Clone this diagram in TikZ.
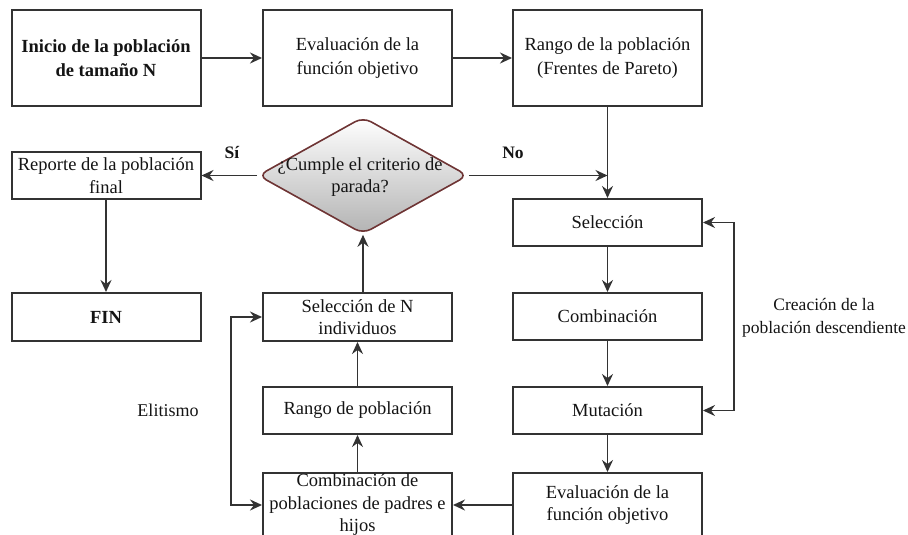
\documentclass[tikz,border=0pt]{standalone}
\usepackage{fontspec}
\setmainfont{Liberation Serif}
\usetikzlibrary{shapes.geometric,arrows.meta}
\definecolor{boxline}{HTML}{333333}
\definecolor{txt}{HTML}{141414}
\definecolor{dialine}{HTML}{6E3434}
\begin{document}
\begin{tikzpicture}[x=1pt,y=-1pt,
  box/.style={draw=boxline, line width=2pt, fill=white, minimum width=189pt, inner sep=0pt,
    align=center, text=txt, font=\fontsize{18.5}{22.5}\selectfont},
  lbl/.style={text=txt, align=center, inner sep=0pt, font=\fontsize{18}{22.5}\selectfont},
  tip/.tip={Stealth[length=12pt,width=11pt,inset=4pt]},
  conn/.style={draw=boxline, line width=1.8pt, -tip},
  dconn/.style={draw=boxline, line width=1.8pt, tip-tip}
]
\useasboundingbox (0,0) rectangle (908,535);
% top row
\node[box, minimum height=96pt, font=\fontsize{18.5}{24}\selectfont\bfseries] (inicio) at (106,58) {Inicio de la población\\de tamaño N};
\node[box, minimum height=96pt, font=\fontsize{18.5}{24}\selectfont] (eval1) at (357.5,58) {Evaluación de la\\función objetivo};
\node[box, minimum height=96pt, font=\fontsize{18.5}{24}\selectfont] (rango1) at (607.5,58) {Rango de la población\\(Frentes de Pareto)};
% left column
\node[box, minimum height=47pt] (reporte) at (106,175.5) {Reporte de la población\\final};
\node[box, minimum height=48pt, font=\fontsize{18.5}{22.5}\selectfont\bfseries] (fin) at (106,317) {FIN};
% decision
\node[diamond, draw=dialine, line width=1.6pt, rounded corners=9pt, top color=white, bottom color=black!30,
  minimum width=210pt, minimum height=117pt, inner sep=0pt] (dia) at (363,175.5) {};
\node[lbl, font=\fontsize{18.5}{22}\selectfont] (diatxt) at (360,177.5) {¿Cumple el criterio de\\parada?};
% right column
\node[box, minimum height=47pt] (sel) at (607.5,222.5) {Selección};
\node[box, minimum height=47pt] (comb) at (607.5,316.5) {Combinación};
\node[box, minimum height=47pt] (mut) at (607.5,410.5) {Mutación};
\node[box, minimum height=64pt] (eval2) at (607.5,505) {Evaluación de la\\función objetivo};
% middle column
\node[box, minimum height=48pt] (selN) at (357.5,317) {Selección de N\\individuos};
\node[box, minimum height=47pt] (rangoP) at (357.5,410.5) {Rango de población};
\node[box, minimum height=64pt, font=\fontsize{18.5}{22.5}\selectfont] (combP) at (357.5,505) {Combinación de\\poblaciones de padres e\\hijos};
% labels
\node[lbl, font=\fontsize{17.5}{20}\selectfont\bfseries] (si) at (232,153) {Sí};
\node[lbl, font=\fontsize{17.5}{20}\selectfont\bfseries] (no) at (513,153) {No};
\node[lbl] (elit) at (168,410) {Elitismo};
\node[lbl, font=\fontsize{17.5}{22.5}\selectfont] (crea) at (824,318) {Creación de la\\población descendiente};
\coordinate (nojoin) at (607.5,175.5);
% connectors
\draw[conn] (inicio) -- (eval1);
\draw[conn] (eval1) -- (rango1);
\draw[conn] (rango1) -- (sel);
\draw[conn] (dia.east) -- (nojoin);
\draw[conn] (dia.west) -- (reporte.east);
\draw[conn] (reporte) -- (fin);
\draw[conn] (dia.south |- selN.north) -- (dia.south);
\draw[conn] (rangoP) -- (selN);
\draw[conn] (combP) -- (rangoP);
\draw[conn] (sel) -- (comb);
\draw[conn] (comb) -- (mut);
\draw[conn] (mut) -- (eval2);
\draw[conn] (eval2.west) -- (combP.east);
\draw[dconn] (sel.east) -- ++(31,0) |- (mut.east);
\draw[dconn] (selN.west) -- ++(-31,0) |- (combP.west);
\end{tikzpicture}
\end{document}
